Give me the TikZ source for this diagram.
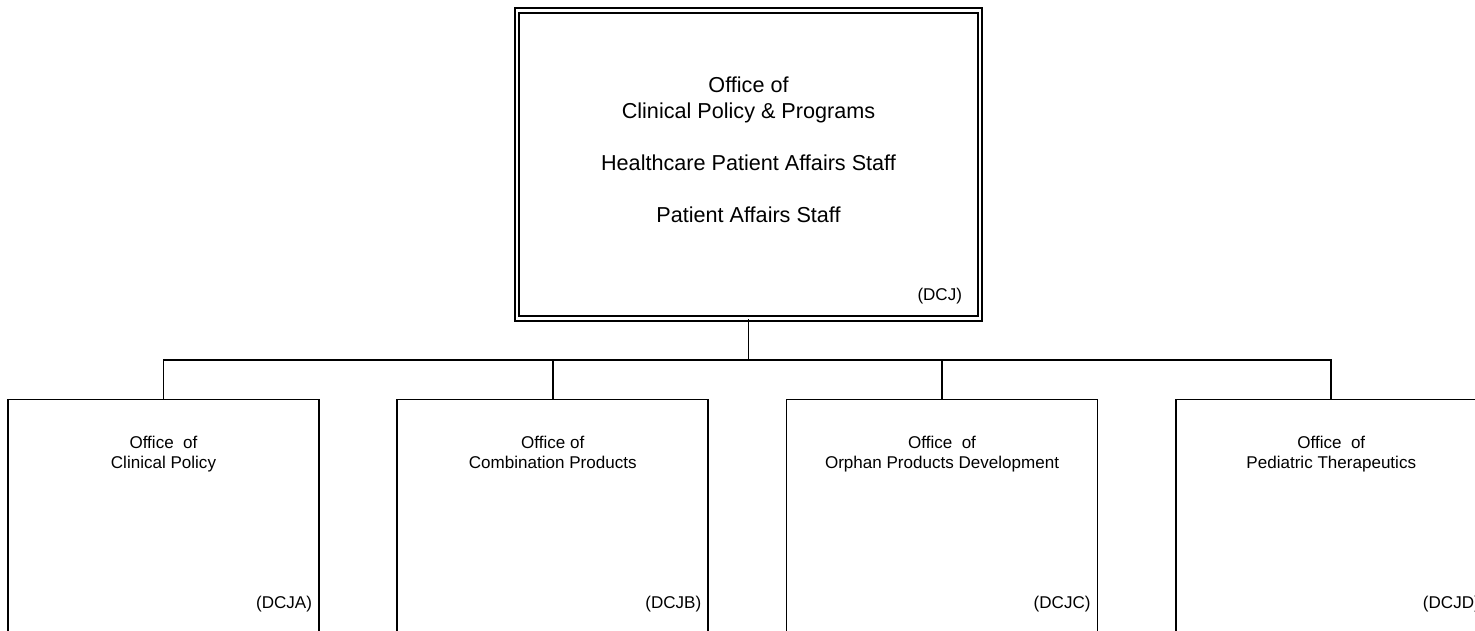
\documentclass[tikz,border=0pt]{standalone}
\usepackage{fontspec}
\setmainfont{Liberation Sans}
\usetikzlibrary{positioning}

\begin{document}
\begin{tikzpicture}[line width=1pt,
    head/.style={draw, double, double distance=1.6pt, minimum width=9.26cm, minimum height=6.16cm, inner sep=0pt},
    office/.style={draw, anchor=north, minimum width=6.22cm, minimum height=5.2cm, inner sep=0pt},
    headtitle/.style={align=center, inner sep=0pt, font=\fontsize{12.3}{14.8}\selectfont},
    title/.style={align=center, inner sep=0pt, anchor=north, font=\fontsize{9.7}{11.4}\selectfont},
    code/.style={inner sep=0pt, anchor=base east, font=\fontsize{9.7}{11.4}\selectfont}]
    % Page frame
    \useasboundingbox (0,0) rectangle (29.5,-12.6);
    \clip (0,0) rectangle (29.5,-12.6);

    % Head office
    \node[head] (dcj) at (14.97,-3.29) {};
    \node[headtitle] at ([yshift=0.29cm]dcj.center) {Office of\\Clinical Policy \& Programs\\[14.8pt]Healthcare Patient Affairs Staff\\[14.8pt]Patient Affairs Staff};
    \node[code] at ([xshift=-0.36cm, yshift=0.37cm]dcj.south east) {(DCJ)};

    % Offices below
    \node[office] (dcja) at (3.27,-7.97) {};
    \node[office, right=1.53cm of dcja] (dcjb) {};
    \node[office, right=1.53cm of dcjb] (dcjc) {};
    \node[office, right=1.53cm of dcjc] (dcjd) {};

    \node[title] at ([yshift=-0.74cm]dcja.north) {Office~~of\\Clinical Policy};
    \node[title] at ([yshift=-0.74cm]dcjb.north) {Office of\\Combination Products};
    \node[title] at ([yshift=-0.74cm]dcjc.north) {Office~~of\\Orphan Products Development};
    \node[title] at ([yshift=-0.74cm]dcjd.north) {Office~~of\\Pediatric Therapeutics};

    \node[code] at ([xshift=-0.14cm, yshift=-4.19cm]dcja.north east) {(DCJA)};
    \node[code] at ([xshift=-0.14cm, yshift=-4.19cm]dcjb.north east) {(DCJB)};
    \node[code] at ([xshift=-0.14cm, yshift=-4.19cm]dcjc.north east) {(DCJC)};
    \node[code] at ([xshift=-0.14cm, yshift=-4.19cm]dcjd.north east) {(DCJD)};

    % Connectors
    \coordinate (bus) at (14.97,-7.2);
    \draw (dcj.south) -- (bus);
    \draw (dcja.north) -- (dcja.north |- bus) -- (dcjd.north |- bus) -- (dcjd.north);
    \foreach \n in {dcjb, dcjc}
        \draw (\n.north) -- (\n.north |- bus);
\end{tikzpicture}
\end{document}
